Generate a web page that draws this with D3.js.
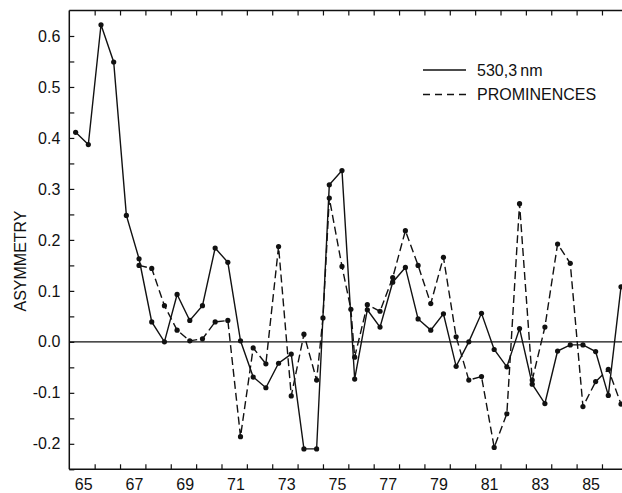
<!DOCTYPE html>
<html>
<head>
<meta charset="utf-8">
<script src="https://cdn.jsdelivr.net/npm/d3@7"></script>
<style>
  body { margin: 0; background: #fff; }
  text { font-family: "Liberation Sans", Arial, sans-serif; fill: #111; }
</style>
</head>
<body>
<div id="chart"></div>
<script>
// half-year bins, 530.3 nm corona line
var coronaYears = [1965.25, 1965.75, 1966.25, 1966.75, 1967.25, 1967.75, 1968.25, 1968.75,
  1969.25, 1969.75, 1970.25, 1970.75, 1971.25, 1971.75, 1972.25, 1972.75,
  1973.25, 1973.75, 1974.25, 1974.75, 1975.25, 1975.75, 1976.25, 1976.75,
  1977.25, 1977.75, 1978.25, 1978.75, 1979.25, 1979.75, 1980.25, 1980.75,
  1981.25, 1981.75, 1982.25, 1982.75, 1983.25, 1983.75, 1984.25, 1984.75,
  1985.25, 1985.75, 1986.25, 1986.75];
var coronaValues = [0.411, 0.387, 0.622, 0.549, 0.248, 0.163, 0.039, 0.000,
  0.093, 0.042, 0.071, 0.184, 0.156, 0.002, -0.069, -0.090,
  -0.042, -0.024, -0.210, -0.210, 0.308, 0.336, -0.073, 0.063,
  0.029, 0.117, 0.146, 0.045, 0.023, 0.055, -0.048, 0.000,
  0.056, -0.015, -0.049, 0.026, -0.083, -0.121, -0.018, -0.006,
  -0.006, -0.019, -0.105, 0.108];

// prominences
var promYears = [1967.75, 1968.25, 1968.75, 1969.25, 1969.75, 1970.25, 1970.75, 1971.25,
  1971.75, 1972.25, 1972.75, 1973.25, 1973.75, 1974.25, 1974.75, 1975.0,
  1975.25, 1975.75, 1976.1, 1976.25, 1976.75, 1977.25, 1977.75, 1978.25,
  1978.75, 1979.25, 1979.75, 1980.25, 1980.75, 1981.25, 1981.75, 1982.25,
  1982.75, 1983.25, 1983.75, 1984.25, 1984.75, 1985.25, 1985.75, 1986.25,
  1986.75];
var promValues = [0.150, 0.144, 0.071, 0.023, 0.002, 0.006, 0.039, 0.042,
  -0.186, -0.012, -0.043, 0.187, -0.106, 0.015, -0.075, 0.047,
  0.282, 0.148, 0.064, -0.030, 0.073, 0.060, 0.126, 0.218,
  0.150, 0.075, 0.166, 0.010, -0.075, -0.068, -0.207, -0.141,
  0.271, -0.075, 0.029, 0.192, 0.154, -0.127, -0.078, -0.054,
  -0.122];

var xTickYears = [1966, 1967, 1968, 1969, 1970, 1971, 1972, 1973, 1974, 1975, 1976,
  1977, 1978, 1979, 1980, 1981, 1982, 1983, 1984, 1985, 1986];
var xLabelYears = [1965, 1967, 1969, 1971, 1973, 1975, 1977, 1979, 1981, 1983, 1985];
var yTicks = [-0.25, -0.2, -0.15, -0.1, -0.05, 0, 0.05, 0.1, 0.15, 0.2, 0.25,
  0.3, 0.35, 0.4, 0.45, 0.5, 0.55, 0.6];
var yLabels = [-0.2, -0.1, 0, 0.1, 0.2, 0.3, 0.4, 0.5, 0.6];

var legendNames = ["530,3\u2009nm", "PROMINENCES"];

var W = 622, H = 493;
var plotL = 69.3, plotR = 621, plotT = 10.5, plotB = 469.3;

var svg = d3.select("#chart")
  .append("svg")
    .attr("width", W)
    .attr("height", H);

var x = d3.scaleLinear().domain([1965, 1986.75]).range([plotL, plotR]);
var y = d3.scaleLinear().domain([-0.25, 0.65]).range([plotB, plotT]);

// frame: left, top, bottom (no right side)
var frame = svg.append("g").attr("stroke", "#111").attr("stroke-width", 1.5).attr("fill", "none");
frame.append("path").attr("d", "M" + plotL + "," + plotT + "V" + plotB);
frame.append("path").attr("d", "M" + plotL + "," + plotT + "H" + W);
frame.append("path").attr("d", "M" + plotL + "," + plotB + "H" + W);

// inward ticks
svg.append("g")
  .attr("transform", "translate(0," + plotB + ")")
  .call(d3.axisBottom(x).tickValues(xTickYears).tickSize(-5).tickFormat(""))
  .call(function(g) { g.select(".domain").remove(); g.selectAll("line").attr("stroke", "#111").attr("stroke-width", 1.2); });
svg.append("g")
  .attr("transform", "translate(0," + plotT + ")")
  .call(d3.axisTop(x).tickValues(xTickYears).tickSize(-5).tickFormat(""))
  .call(function(g) { g.select(".domain").remove(); g.selectAll("line").attr("stroke", "#111").attr("stroke-width", 1.2); });

// year labels sit in the middle of each year
svg.append("g")
  .attr("transform", "translate(0," + plotB + ")")
  .call(d3.axisBottom(x).tickValues(xLabelYears.map(function(d) { return d + 0.55; }))
    .tickSize(0).tickPadding(9)
    .tickFormat(function(d) { return String(Math.floor(d) % 100); }))
  .call(function(g) {
    g.select(".domain").remove();
    g.selectAll("text").attr("font-size", "16px").attr("font-family", "Liberation Sans, Arial, sans-serif").attr("fill", "#111");
  });

svg.append("g")
  .attr("transform", "translate(" + plotL + ",0)")
  .call(d3.axisLeft(y).tickValues(yTicks).tickSize(-5).tickPadding(9)
    .tickFormat(function(d) {
      var hit = yLabels.some(function(v) { return Math.abs(v - d) < 1e-9; });
      return hit ? d.toFixed(1) : "";
    }))
  .call(function(g) {
    g.select(".domain").remove();
    g.selectAll("line").attr("stroke", "#111").attr("stroke-width", 1.2);
    g.selectAll("text").attr("font-size", "16px").attr("font-family", "Liberation Sans, Arial, sans-serif").attr("fill", "#111");
  });

svg.append("text")
  .attr("transform", "translate(26,261) rotate(-90)")
  .attr("text-anchor", "middle")
  .attr("font-size", "16px")
  .text("ASYMMETRY");

// zero line
svg.append("line")
  .attr("x1", plotL).attr("x2", W)
  .attr("y1", y(0)).attr("y2", y(0))
  .attr("stroke", "#111").attr("stroke-width", 1.3);

var line = d3.line()
  .x(function(d) { return x(d[0]); })
  .y(function(d) { return y(d[1]); });

var corona = d3.zip(coronaYears, coronaValues);
var prom = d3.zip(promYears, promValues);

svg.append("path")
  .datum(prom)
  .attr("d", line)
  .attr("fill", "none")
  .attr("stroke", "#111")
  .attr("stroke-width", 1.4)
  .attr("stroke-dasharray", "8,4");

svg.append("path")
  .datum(corona)
  .attr("d", line)
  .attr("fill", "none")
  .attr("stroke", "#111")
  .attr("stroke-width", 1.4);

svg.selectAll(".dot")
  .data(corona.concat(prom))
  .enter().append("circle")
    .attr("cx", function(d) { return x(d[0]); })
    .attr("cy", function(d) { return y(d[1]); })
    .attr("r", 2.6)
    .attr("fill", "#111");

// legend
svg.append("line")
  .attr("x1", 423).attr("x2", 466).attr("y1", 70).attr("y2", 70)
  .attr("stroke", "#111").attr("stroke-width", 1.3);
svg.append("line")
  .attr("x1", 423).attr("x2", 466).attr("y1", 94.5).attr("y2", 94.5)
  .attr("stroke", "#111").attr("stroke-width", 1.3)
  .attr("stroke-dasharray", "7,5");
svg.append("text").attr("x", 477).attr("y", 75.5).attr("font-size", "16px").text(legendNames[0]);
svg.append("text").attr("x", 477).attr("y", 99.5).attr("font-size", "16px").text(legendNames[1]);
</script>
</body>
</html>
